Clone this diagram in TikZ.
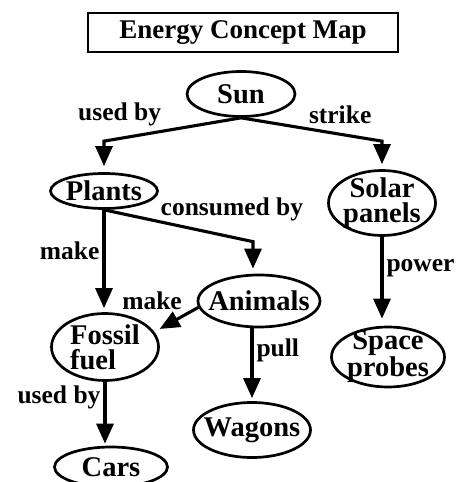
\documentclass[tikz,border=0pt]{standalone}
\usepackage{fontspec}
\setmainfont{Liberation Serif}
\usetikzlibrary{positioning,shapes.geometric,arrows.meta}
\tikzset{
    concept/.style={ellipse, draw, line width=2.7pt, inner xsep=-12pt, inner ysep=-6pt,
        align=center, font=\fontsize{28.5}{25}\selectfont\bfseries}, % the ellipses
    link/.style={font=\fontsize{25.5}{28}\selectfont\bfseries, inner sep=3pt}, % words on the arrows
    arr/.style={-{Triangle[length=20pt,width=17pt]}, line width=3.1pt},
}

\begin{document}
\begin{tikzpicture}[x=1pt,y=1pt]
  \useasboundingbox (0,0) rectangle (467,482);

  % title
  \node[draw, line width=2.7pt, minimum width=310pt, minimum height=39pt,
      font=\fontsize{27}{30}\selectfont\bfseries] (title) at (243,449.5) {Energy Concept Map};

  \node[concept, minimum width=108pt, minimum height=45pt] (sun)     at (241,388) {Sun};
  \node[concept, minimum width=107pt, minimum height=35pt] (plants)  at (104,291) {Plants};
  \node[concept, minimum width=107pt, minimum height=65pt] (solar)   at (382,279) {Solar\\panels};
  \node[concept, minimum width=122pt, minimum height=52pt] (animals) at (259,181) {Animals};
  \node[concept, minimum width=107pt, minimum height=67pt, align=left] (fossil) at (105,135) {Fossil\\fuel};
  \node[concept, minimum width=117pt, minimum height=55pt] (wagons)  at (252,52)  {Wagons};
  \node[concept, minimum width=113pt, minimum height=60pt] (probes)  at (388,125) {Space\\probes};
  \node[concept, minimum width=113pt, minimum height=40pt] (cars)    at (111,15)  {Cars};

  % from the sun
  \draw[arr, shorten >=6pt] (sun.south)
    -- node[link, pos=0.55, above left] {used by} ([yshift=31pt]plants.north) -- (plants.north);
  \draw[arr, shorten >=5pt] (sun.south)
    -- node[link, pos=0.45, above right] {strike} ([yshift=28pt]solar.north) -- (solar.north);

  % from the plants
  \draw[arr, shorten >=5pt] (plants.south)
    -- node[link, pos=0.35, anchor=south west, yshift=-5pt] {consumed by}
       ([xshift=-6pt,yshift=32pt]animals.north) -- ([xshift=-6pt]animals.north);
  \draw[arr, shorten >=4pt] (plants.south)
    -- node[link, left, pos=0.4] {make} (plants.south |- fossil.north);

  % from the animals
  \draw[arr, shorten >=6pt] (animals.186)
    -- node[link, at start, left=12pt, yshift=7pt] {make} (fossil.17);
  \draw[arr, shorten >=3pt] (wagons.north |- animals.south)
    -- node[link, right, pos=0.3] {pull} (wagons.north);

  \draw[arr, shorten >=7pt] (solar.south)
    -- node[link, right, pos=0.35] {power} (solar.south |- probes.north);
  \draw[arr, shorten >=2pt] (fossil.south)
    -- node[link, left, pos=0.25] {used by} (fossil.south |- cars.north);
\end{tikzpicture}
\end{document}
